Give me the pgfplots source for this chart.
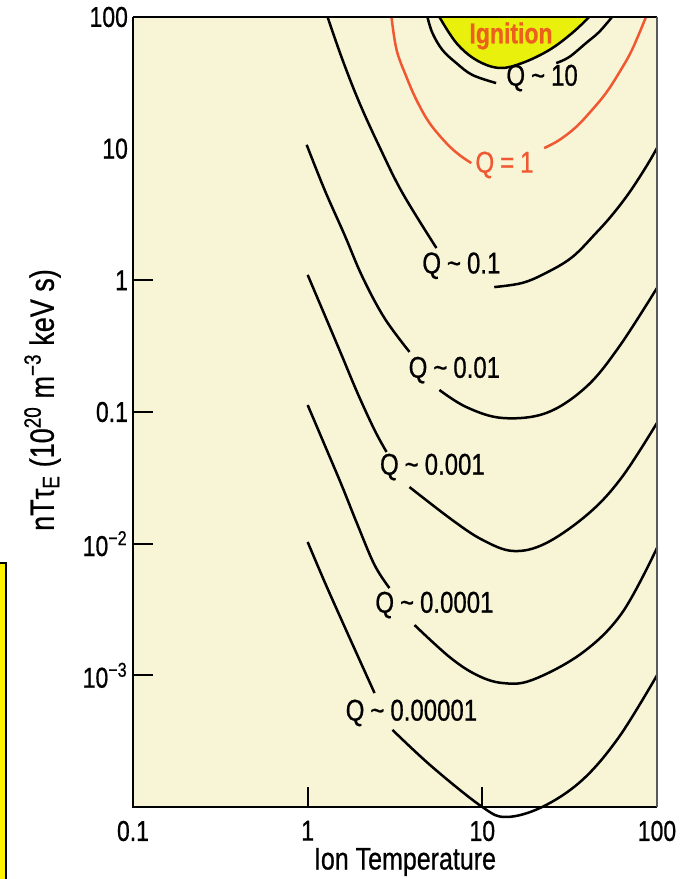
\documentclass[border=0pt]{standalone}
\usepackage{fontspec}
\setmainfont{Liberation Sans}[FakeStretch=0.8, FakeBold=0.7]
\usepackage{pgfplots}
\pgfplotsset{compat=1.18}
\definecolor{cream}{RGB}{248,244,214}
\definecolor{ign}{RGB}{232,240,12}
\definecolor{qred}{RGB}{240,88,50}
\definecolor{igntext}{RGB}{236,96,30}
\newcommand\qfont{\fontsize{12}{14}\selectfont}
\newcommand\tfont{\fontsize{11.5}{13}\selectfont}
\newcommand\lfont{\fontsize{12.5}{14}\selectfont}
\newcommand\qsim{\hspace{0.2em}\textasciitilde\hspace{0.2em}}

\begin{document}
\begin{tikzpicture}
\path[use as bounding box] (0,0) rectangle (276.4pt,351.6pt);
% yellow box cut off at the left edge
\fill[yellow] (0,0) rectangle (2.4pt,126.4pt);
\draw[line width=0.8pt] (0,126.4pt) -- (2.4pt,126.4pt) -- (2.4pt,0);
\begin{axis}[
    at={(53.2pt,28.8pt)}, anchor=south west,
    scale only axis, width=209.6pt, height=316pt,
    xmode=log, ymode=log,
    xmin=0.1, xmax=100, ymin=1e-4, ymax=100,
    axis background/.style={fill=cream},
    axis line style={draw=none},
    clip=false,
    tick align=inside, major tick length=8pt, minor tick length=0pt,
    tick style={black, line width=0.8pt},
    minor tick style={draw=none},
    xtick pos=bottom, ytick pos=left,
    xtick={0.1,1,10,100}, xticklabels={0.1,1,10,100},
    ytick={1,0.1,0.01,0.001},
    yticklabels={1,0.1,10\textsuperscript{−2},10\textsuperscript{−3}},
    extra y ticks={10,100}, extra y tick labels={10,100},
    extra y tick style={major tick length=0pt},
    tick label style={font=\tfont},
    xticklabel style={yshift=-2pt},
    yticklabel style={xshift=1.5pt},
    every axis plot/.append style={line width=1pt, smooth, tension=0.6},
]
% ignition region
\addplot[fill=ign, draw=none] coordinates {
  (5.68,100) (7.10,63.5) (9.24,47.1) (12.5,41.0) (16.9,44.7) (24.2,56.2) (32.7,75.6) (40.9,100)
} -- cycle;
\addplot[black] coordinates {
  (5.68,100) (7.10,63.5) (9.24,47.1) (12.5,41.0) (16.9,44.7) (24.2,56.2) (32.7,75.6) (40.9,100)
};
% Q ~ 10
\addplot[black] coordinates {
  (4.85,100) (5.18,75.6) (5.91,56.2) (7.10,44.7) (8.77,36.3) (12.0,31.5)
};
\addplot[black] coordinates {
  (26.5,44.7) (31.4,49.6) (39.3,63.5) (46.6,76.9) (55.3,100)
};
% Q = 1
\addplot[qred] coordinates {
  (3.02,100) (3.23,56.2) (3.68,35.0) (4.20,23.4) (4.98,15.7) (6.23,11.0) (7.39,8.96) (8.65,7.78)
};
\addplot[qred] coordinates {
  (22.6,10.1) (27.5,11.6) (34.4,14.6) (42.5,19.7) (51.1,26.5) (60.6,37.6) (71.9,56.2) (86.5,100)
};
% Q ~ 0.1
\addplot[black] coordinates {
  (1.30,100) (1.585,47.1) (1.982,22.2) (2.58,10.3) (3.49,4.61) (5.46,1.76)
};
\addplot[black] coordinates {
  (11.7,0.889) (16.9,0.955) (23.2,1.14) (32.7,1.50) (44.8,2.29) (55.3,3.13) (69.2,4.61) (86.5,7.26) (100,10.1)
};
% Q ~ 0.01
\addplot[black] coordinates {
  (0.987,10.7) (1.251,4.86) (1.627,2.21) (2.06,1.06) (2.75,0.518) (3.83,0.286)
};
\addplot[black] coordinates {
  (5.68,0.147) (8.10,0.109) (13.0,0.0901) (23.2,0.0982) (39.3,0.155) (60.6,0.312) (100,0.875)
};
% Q ~ 0.001
\addplot[black] coordinates {
  (1,1.10) (1.251,0.546) (1.564,0.271) (1.931,0.139) (2.415,0.073) (2.83,0.0497)
};
\addplot[black] coordinates {
  (3.83,0.0269) (6.74,0.0151) (10.0,0.0107) (15.0,0.0088) (23.2,0.0101) (40.9,0.0171) (63.1,0.0321) (100,0.0826)
};
% Q ~ 0.0001
\addplot[black] coordinates {
  (1,0.113) (1.251,0.0562) (1.564,0.0279) (1.931,0.0139) (2.415,0.00689) (2.94,0.0046)
};
\addplot[black] coordinates {
  (4.09,0.00241) (6.48,0.00138) (9.24,0.00101) (13.0,8.75e-4) (19.3,9.22e-4) (37.3,0.00148) (63.1,0.00298) (100,0.00927)
};
% Q ~ 0.00001
\addplot[black] coordinates {
  (1.00,0.0103) (1.251,0.00512) (1.564,0.00263) (1.982,0.00131) (2.415,0.000734)
};
\addplot[black] coordinates {
  (3.06,3.85e-4) (5.18,2.01e-4) (10,1.0e-4) (13.7,8.4e-5) (22,1.0e-4) (37.3,1.6e-4) (60.6,3.4e-4) (100,1.0e-3)
};
% frame
\draw[black, line width=0.9pt] (rel axis cs:0,1) -- (rel axis cs:0,0) -- (rel axis cs:1,0);
\draw[black, line width=0.7pt] (rel axis cs:0,1) -- (rel axis cs:1,1);
\draw[black!65, line width=0.6pt] (rel axis cs:1,1) -- (rel axis cs:1,0);
% labels
\node[font=\fontsize{11.5}{13}\selectfont\bfseries, text=igntext] at (axis cs:14.6,71.8) {Ignition};
\node[font=\qfont] at (axis cs:22.0,34.4) {Q\qsim10};
\node[font=\qfont, text=qred] at (axis cs:13.4,7.52) {Q\hspace{0.2em}=\hspace{0.2em}1};
\node[font=\qfont] at (axis cs:7.59,1.29) {Q\qsim0.1};
\node[font=\qfont] at (axis cs:6.92,0.208) {Q\qsim0.01};
\node[font=\qfont] at (axis cs:5.18,0.0382) {Q\qsim0.001};
\node[font=\qfont] at (axis cs:5.32,0.00342) {Q\qsim0.0001};
\node[font=\qfont] at (axis cs:3.93,5.18e-4) {Q\qsim0.00001};
\end{axis}
\node[font=\lfont] at (162pt,6.8pt) {Ion Temperature};
\node[font=\fontsize{13.5}{15}\selectfont, rotate=90] at (17pt,191.6pt)
  {nTτ\textsubscript{E} (10\textsuperscript{20} m\textsuperscript{−3} keV s)};
\end{tikzpicture}
\end{document}
